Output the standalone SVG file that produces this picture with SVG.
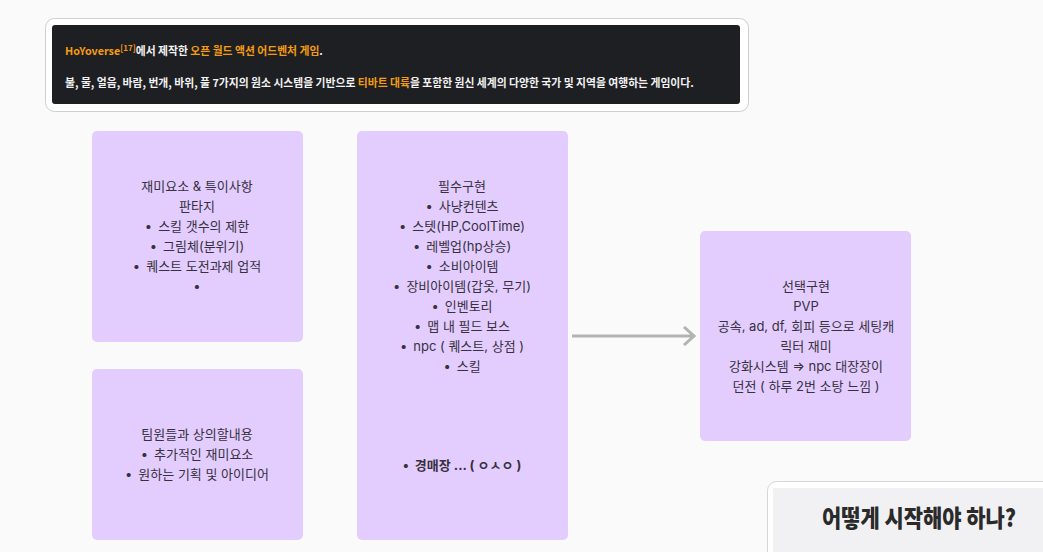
<svg xmlns="http://www.w3.org/2000/svg" width="1043" height="552" viewBox="0 0 1043 552">
<style>
.box{fill:#e3cdfe;}
.t{font-family:"Inter","Noto Sans CJK KR",sans-serif;font-size:13px;fill:#37303d;text-anchor:middle;}
.b{font-weight:bold;}
.hd{font-family:"Noto Sans CJK KR",sans-serif;font-size:10.8px;font-weight:bold;fill:#f2f2f2;}
.or{fill:#f39c12;}
</style>
<defs>
<marker id="ah" markerWidth="14" markerHeight="20" refX="12" refY="10" orient="auto" markerUnits="userSpaceOnUse">
<path d="M2,1 L12,10 L2,19" fill="none" stroke="#b3b3b3" stroke-width="3"/>
</marker>
</defs>
<rect width="1043" height="552" fill="#fafafa"/>
<g id="header">
<rect x="45.5" y="18.5" width="703" height="93" rx="9" fill="#ffffff" stroke="#cfcfcf"/>
<rect x="52" y="25" width="688" height="79" rx="3" fill="#1e1f22"/>
<text class="hd" x="65" y="55"><tspan class="or">HoYoverse</tspan><tspan class="or" font-size="8" dy="-4">[17]</tspan><tspan dy="4">에서 제작한 </tspan><tspan class="or">오픈 월드 액션 어드벤처 게임</tspan><tspan>.</tspan></text>
<text class="hd" x="65" y="87">불, 물, 얼음, 바람, 번개, 바위, 풀 7가지의 원소 시스템을 기반으로 <tspan class="or">티바트 대륙</tspan>을 포함한 원신 세계의 다양한 국가 및 지역을 여행하는 게임이다.</text>
</g>
<g id="node-fun">
<rect class="box" x="92" y="131" width="211" height="211" rx="5"/>
<text class="t" x="197" y="191">재미요소 &amp; 특이사항</text>
<text class="t" x="197" y="211">판타지</text>
<text class="t" x="197" y="231">•<tspan dx="6">스킬 갯수의 제한</tspan></text>
<text class="t" x="197" y="251">•<tspan dx="6">그림체(분위기)</tspan></text>
<text class="t" x="197" y="271">•<tspan dx="6">퀘스트 도전과제 업적</tspan></text>
<text class="t" x="197" y="291">•</text>
</g>
<g id="node-team">
<rect class="box" x="92" y="369" width="211" height="171" rx="5"/>
<text class="t" x="197" y="439">팀원들과 상의할내용</text>
<text class="t" x="197" y="459">•<tspan dx="6">추가적인 재미요소</tspan></text>
<text class="t" x="197" y="479">•<tspan dx="6">원하는 기획 및 아이디어</tspan></text>
</g>
<g id="node-required">
<rect class="box" x="357" y="131" width="211" height="409" rx="5"/>
<text class="t" x="462" y="191">필수구현</text>
<text class="t" x="462" y="211">•<tspan dx="6">사냥컨텐츠</tspan></text>
<text class="t" x="462" y="231">•<tspan dx="6">스텟(HP,CoolTime)</tspan></text>
<text class="t" x="462" y="251">•<tspan dx="6">레벨업(hp상승)</tspan></text>
<text class="t" x="462" y="271">•<tspan dx="6">소비아이템</tspan></text>
<text class="t" x="462" y="291">•<tspan dx="6">장비아이템(갑옷, 무기)</tspan></text>
<text class="t" x="462" y="311">•<tspan dx="6">인벤토리</tspan></text>
<text class="t" x="462" y="331">•<tspan dx="6">맵 내 필드 보스</tspan></text>
<text class="t" x="462" y="351">•<tspan dx="6">npc ( 퀘스트, 상점 )</tspan></text>
<text class="t" x="462" y="371">•<tspan dx="6">스킬</tspan></text>
<text class="t b" x="462" y="470">•<tspan dx="6">경매장 ... ( ㅇㅅㅇ )</tspan></text>
</g>
<g id="node-optional">
<rect class="box" x="700" y="231" width="211" height="210" rx="5"/>
<text class="t" x="806" y="291">선택구현</text>
<text class="t" x="806" y="311">PVP</text>
<text class="t" x="806" y="331">공속, ad, df, 회피 등으로 세팅캐</text>
<text class="t" x="806" y="351">릭터 재미</text>
<text class="t" x="806" y="371">강화시스템 ⇒ npc 대장장이</text>
<text class="t" x="806" y="391">던전 ( 하루 2번 소탕 느낌 )</text>
</g>
<g id="connectors">
<line x1="572" y1="336" x2="694" y2="336" stroke="#b3b3b3" stroke-width="3" marker-end="url(#ah)"/>
</g>
<g id="card">
<rect x="767.5" y="481.5" width="290" height="90" rx="9" fill="#ffffff" stroke="#d6d6d6"/>
<rect x="773" y="488" width="280" height="80" fill="#f1f1f3"/>
<text x="822" y="527" font-family="'Noto Sans CJK KR',sans-serif" font-size="24" font-weight="900" fill="#2a2a2a" textLength="194" lengthAdjust="spacingAndGlyphs">어떻게 시작해야 하나?</text>
</g>
</svg>
